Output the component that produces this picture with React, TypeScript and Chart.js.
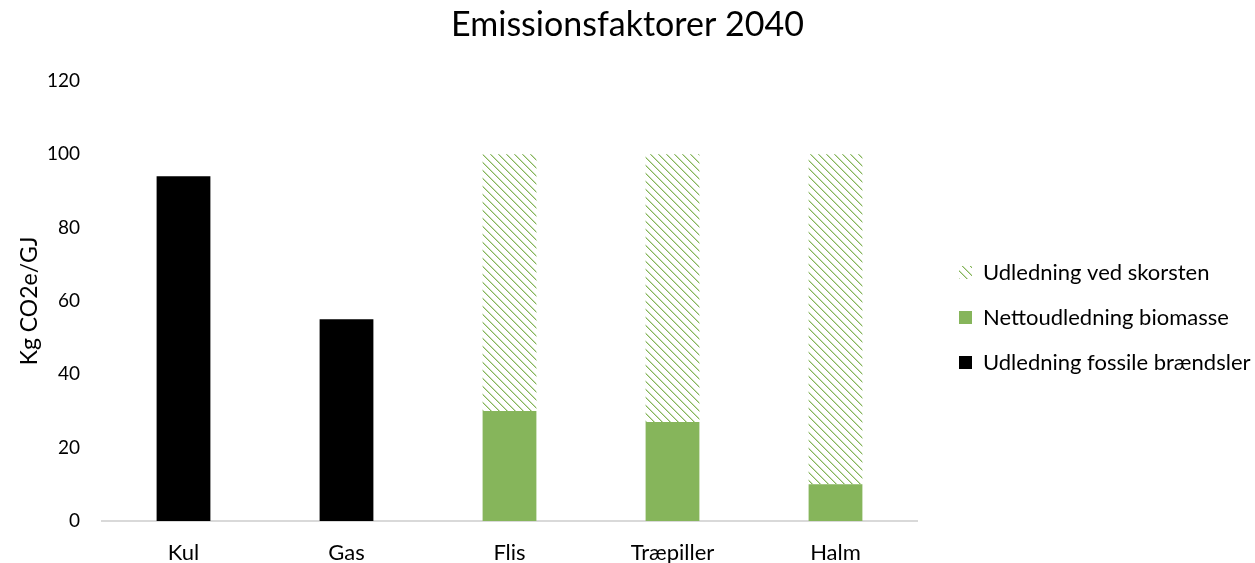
import React, { useEffect, useRef } from "react";
import { Chart, registerables } from "chart.js";

Chart.register(...registerables);

const categories = ["Kul", "Gas", "Flis", "Træpiller", "Halm"];
const fossilValues = [94, 55, 0, 0, 0];
const nettoValues = [0, 0, 30, 27, 10];
const skorstenValues = [0, 0, 70, 73, 90];
const yTicks = [0, 20, 40, 60, 80, 100, 120];

const GREEN = "#86B55B";
const FONT = "Lato, 'Open Sans', sans-serif";

function makeHatch(): CanvasPattern | string {
  const c = document.createElement("canvas");
  c.width = 8;
  c.height = 8;
  const ctx = c.getContext("2d");
  if (!ctx) return GREEN;
  ctx.fillStyle = "#ffffff";
  ctx.fillRect(0, 0, 8, 8);
  for (let i = 0; i < 8; i++) {
    ctx.fillStyle = GREEN;
    ctx.fillRect(i, i, 1, 1);
    ctx.fillStyle = "rgba(134,181,91,0.45)";
    ctx.fillRect((i + 1) % 8, i, 1, 1);
  }
  const p = ctx.createPattern(c, "repeat");
  return p || GREEN;
}

const LEGEND_PAD = 23;

const layoutPlugin = {
  id: "layoutTweaks",
  afterInit(chart: any) {
    const leg = chart.legend;
    if (leg) {
      const f = leg.fit.bind(leg);
      leg.fit = function () {
        f();
        this.width = 338;
      };
    }
  },
  afterLayout(chart: any) {
    const leg = chart.legend;
    if (leg) {
      const dx = 959 - LEGEND_PAD - leg.left;
      leg.left += dx;
      leg.right += dx;
      leg.top += 36;
      leg.bottom += 36;
    }
  },
};

export default function App() {
  const ref = useRef<HTMLCanvasElement>(null);
  useEffect(() => {
    if (!ref.current) return;
    const hatch = makeHatch();
    const chart = new Chart(ref.current, {
      type: "bar",
      data: {
        labels: categories,
        datasets: [
          {
            label: "Udledning fossile brændsler",
            data: fossilValues,
            backgroundColor: "#000000",
            barPercentage: 0.66,
            categoryPercentage: 0.5,
          },
          {
            label: "Nettoudledning biomasse",
            data: nettoValues,
            backgroundColor: GREEN,
            barPercentage: 0.66,
            categoryPercentage: 0.5,
          },
          {
            label: "Udledning ved skorsten",
            data: skorstenValues,
            backgroundColor: hatch as any,
            barPercentage: 0.66,
            categoryPercentage: 0.5,
          },
        ],
      },
      plugins: [layoutPlugin],
      options: {
        animation: false,
        responsive: true,
        maintainAspectRatio: false,
        layout: { padding: { left: 0, right: 0, top: 0, bottom: 0 } },
        plugins: {
          title: {
            display: true,
            text: "Emissionsfaktorer 2040",
            color: "#000000",
            font: { family: FONT, size: 34, weight: "normal" },
            padding: { top: 5, bottom: 35 },
          },
          legend: {
            position: "right",
            reverse: true,
            labels: {
              color: "#000000",
              font: { family: FONT, size: 22 },
              boxWidth: 13,
              boxHeight: 13,
              padding: LEGEND_PAD,
            },
          },
          tooltip: { enabled: false },
        },
        scales: {
          x: {
            stacked: true,
            grid: { display: false, drawTicks: false },
            border: { color: "#d9d9d9", width: 2 },
            afterFit: (axis: any) => {
              axis.height = 42;
            },
            ticks: {
              color: "#000000",
              font: { family: FONT, size: 22, lineHeight: 1 },
              padding: 21,
            },
          },
          y: {
            stacked: true,
            min: 0,
            max: 120,
            afterBuildTicks: (axis: any) => {
              axis.ticks = yTicks.map((v) => ({ value: v }));
            },
            afterFit: (axis: any) => {
              axis.width = 102;
            },
            grid: { display: false, drawTicks: false },
            border: { display: false },
            ticks: {
              color: "#000000",
              font: { family: FONT, size: 19 },
              padding: 22,
            },
            title: {
              display: true,
              text: "Kg CO2e/GJ",
              color: "#000000",
              font: { family: FONT, size: 23 },
              padding: { top: 16, bottom: 0 },
            },
          },
        },
      },
    });
    return () => chart.destroy();
  }, []);
  return (
    <div style={{ position: "fixed", left: 0, top: 0, width: 1255, height: 563, background: "#fff" }}>
      <canvas ref={ref} />
    </div>
  );
}
